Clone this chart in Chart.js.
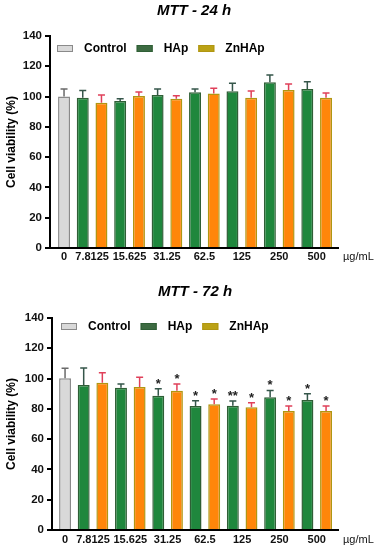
<!DOCTYPE html>
<html>
<head>
<meta charset="utf-8">
<script src="https://cdn.jsdelivr.net/npm/chart.js@4.4.0/dist/chart.umd.min.js"></script>
<style>
  body { margin: 0; background: #fff; width: 378px; height: 550px; overflow: hidden; }
  .box { position: relative; width: 378px; height: 275px; }
</style>
</head>
<body>
<div class="box"><canvas id="mtt24"></canvas></div>
<div class="box"><canvas id="mtt72"></canvas></div>
<script>
const doseLabels = ['0', '7.8125', '15.625', '31.25', '62.5', '125', '250', '500']

// MTT - 24 h
const control24 = [100]
const controlErr24 = [5]
const hap24 = [99.3, 97, 101, 102.8, 103.5, 109.4, 105]
const hapErr24 = [4.7, 1.6, 4.0, 2.2, 5.3, 4.9, 4.8]
const znhap24 = [96, 100.4, 98.6, 102, 99.3, 104.4, 99.3]
const znhapErr24 = [5, 2.6, 1.9, 3.5, 4.4, 3.9, 3.1]

// MTT - 72 h
const control72 = [100.2]
const controlErr72 = [6.6]
const hap72 = [95.8, 94, 88.7, 81.9, 82.1, 87.6, 85.9]
const hapErr72 = [11.2, 2.4, 4.6, 3.5, 3.1, 4.6, 4.1]
const znhap72 = [97.3, 94.5, 92, 83, 81, 78.6, 78.6]
const znhapErr72 = [6.6, 6.3, 4.4, 3.5, 3.1, 3.3, 3.3]
const hapSig72 = ['', '', '*', '*', '**', '*', '*']
const znhapSig72 = ['', '', '*', '*', '*', '*', '*']

const FONT = "'Liberation Sans', Arial, sans-serif"

// bar slots: control at 0, then HAp / ZnHAp pairs
function ctrlPoints(vals) { return vals.map((v, i) => ({ x: i, y: v })) }
function hapPoints(vals) { return vals.map((v, i) => ({ x: 2 * i + 1, y: v })) }
function znPoints(vals) { return vals.map((v, i) => ({ x: 2 * i + 2, y: v })) }
function doseTickValues() { return doseLabels.map((d, i) => i == 0 ? 0 : 2 * i - 0.5) }

const errorBarPlugin = {
    id: 'errorBars',
    afterDatasetsDraw(chart) {
        const ctx = chart.ctx
        const yScale = chart.scales.y
        chart.data.datasets.forEach((ds, di) => {
            const meta = chart.getDatasetMeta(di)
            meta.data.forEach((bar, i) => {
                const v = ds.data[i].y
                const top = yScale.getPixelForValue(v + ds.errors[i])
                const base = yScale.getPixelForValue(v)
                ctx.save()
                ctx.strokeStyle = ds.errColor
                ctx.lineWidth = 1.5
                ctx.beginPath()
                ctx.moveTo(bar.x, base)
                ctx.lineTo(bar.x, top)
                ctx.moveTo(bar.x - 3.5, top)
                ctx.lineTo(bar.x + 3.5, top)
                ctx.stroke()
                if (ds.sig && ds.sig[i]) {
                    ctx.fillStyle = '#222'
                    ctx.font = 'bold 13px ' + FONT
                    ctx.textAlign = 'center'
                    ctx.textBaseline = 'alphabetic'
                    ctx.fillText(ds.sig[i], bar.x, top - 1)
                }
                ctx.restore()
            })
        })
    }
}

// legend sits inside the plot, one row at the top
const insideLegend = {
    id: 'insideLegend',
    afterDraw(chart, args, opts) {
        const ctx = chart.ctx
        const area = chart.chartArea
        let x = area.left + opts.dx
        const y = area.top + opts.dy
        ctx.save()
        ctx.font = 'bold 12px ' + FONT
        ctx.textBaseline = 'middle'
        ctx.textAlign = 'left'
        chart.data.datasets.forEach(ds => {
            ctx.fillStyle = ds.swatch
            ctx.fillRect(x, y - 3.5, 16, 7)
            ctx.strokeStyle = ds.borderColor
            ctx.lineWidth = 1
            ctx.strokeRect(x + 0.5, y - 3, 15, 6)
            ctx.fillStyle = '#000'
            ctx.fillText(ds.label, x + 27, y + 0.5)
            x += 27 + ctx.measureText(ds.label).width + 10
        })
        ctx.restore()
    }
}

const unitPlugin = {
    id: 'unitLabel',
    afterDraw(chart, args, opts) {
        const ctx = chart.ctx
        ctx.save()
        ctx.fillStyle = '#111'
        ctx.font = '11px ' + FONT
        ctx.textAlign = 'left'
        ctx.textBaseline = 'middle'
        ctx.fillText('µg/mL', chart.chartArea.right + 5, chart.chartArea.bottom + opts.dy)
        ctx.restore()
    }
}

function makeChart(id, titleText, ctrl, ctrlErr, hap, hapErr, zn, znErr, hapSig, znSig, lay) {
    const datasets = [
        {
            label: 'Control', data: ctrlPoints(ctrl), errors: ctrlErr,
            backgroundColor: '#d9d9d9', borderColor: '#8a8a8a', swatch: '#d9d9d9', errColor: '#6a6a6a'
        },
        {
            label: 'HAp', data: hapPoints(hap), errors: hapErr, sig: hapSig,
            backgroundColor: '#1f873d', borderColor: '#2f5f36', swatch: '#3d6b42', errColor: '#35564a'
        },
        {
            label: 'ZnHAp', data: znPoints(zn), errors: znErr, sig: znSig,
            backgroundColor: '#ff860a', borderColor: '#b09612', swatch: '#bba215', errColor: '#e0405a'
        }
    ]
    datasets.forEach(ds => {
        ds.borderWidth = 1.5
        ds.grouped = false
        ds.categoryPercentage = 1
        ds.barPercentage = 0.64
    })

    return new Chart(document.getElementById(id), {
        type: 'bar',
        data: { datasets: datasets },
        options: {
            responsive: true,
            maintainAspectRatio: false,
            animation: false,
            layout: { padding: { left: 0, right: 40, top: 0, bottom: 0 } },
            plugins: {
                title: {
                    display: true,
                    text: titleText,
                    fullSize: false,
                    color: '#000',
                    font: { family: FONT, size: 15, weight: 'bold', style: 'italic' },
                    padding: lay.titlePad
                },
                legend: { display: false },
                tooltip: { enabled: false },
                insideLegend: { dx: lay.legendDx, dy: lay.legendDy },
                unitLabel: { dy: lay.unitDy }
            },
            scales: {
                x: {
                    type: 'linear',
                    offset: false,
                    min: lay.xMin,
                    max: lay.xMax,
                    grid: { display: false, drawTicks: false },
                    border: { display: true, color: '#000', width: 2 },
                    afterBuildTicks(scale) {
                        scale.ticks = doseTickValues().map(v => ({ value: v }))
                    },
                    afterFit(scale) { scale.height = lay.xHeight },
                    ticks: {
                        autoSkip: false,
                        maxRotation: 0,
                        padding: lay.xPad,
                        color: '#111',
                        font: { family: FONT, size: 11, weight: 'bold' },
                        callback: (value, index) => doseLabels[index]
                    }
                },
                y: {
                    min: 0,
                    max: 140,
                    ticks: {
                        stepSize: 20,
                        padding: 3,
                        color: '#111',
                        font: { family: FONT, size: 11.5, weight: 'bold' }
                    },
                    grid: { display: true, drawOnChartArea: false, drawTicks: true, tickLength: 5, color: '#000', lineWidth: 2 },
                    border: { display: true, color: '#000', width: 2 },
                    afterFit(scale) { scale.width = lay.yWidth },
                    title: {
                        display: true,
                        text: 'Cell viability (%)',
                        color: '#000',
                        font: { family: FONT, size: 12, weight: 'bold' },
                        padding: { top: 4, bottom: 4 }
                    }
                }
            }
        },
        plugins: [errorBarPlugin, insideLegend, unitPlugin]
    })
}

makeChart('mtt24', 'MTT - 24 h', control24, controlErr24, hap24, hapErr24, znhap24, znhapErr24, null, null, {
    titlePad: { top: 2, bottom: 16 }, xMin: -0.75, xMax: 14.64, xHeight: 27, xPad: 2, yWidth: 50, unitDy: 9,
    legendDx: 7, legendDy: 12.5
})
makeChart('mtt72', 'MTT - 72 h', control72, controlErr72, hap72, hapErr72, znhap72, znhapErr72, hapSig72, znhapSig72, {
    titlePad: { top: 8, bottom: 17 }, xMin: -0.7, xMax: 14.64, xHeight: 20, xPad: 3, yWidth: 52, unitDy: 10,
    legendDx: 9, legendDy: 8.5
})
</script>
</body>
</html>
